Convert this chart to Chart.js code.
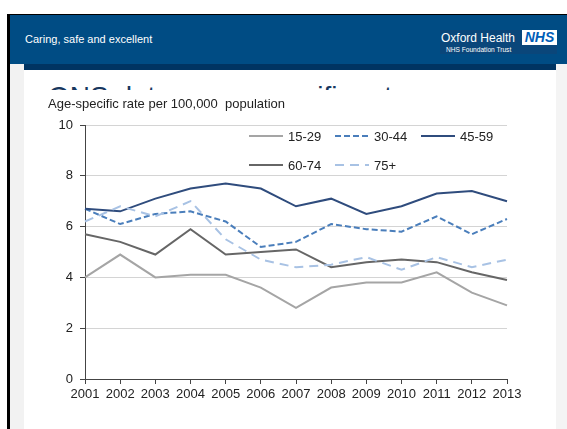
<!DOCTYPE html>
<html>
<head>
<meta charset="utf-8">
<script src="https://cdn.jsdelivr.net/npm/chart.js@4.4.1/dist/chart.umd.min.js"></script>
<style>
  html, body { margin: 0; padding: 0; width: 567px; height: 429px; overflow: hidden; background: #fff; }
  body { position: relative; font-family: 'Liberation Sans', Arial, sans-serif; }
  .abs { position: absolute; }
  #frameTop { left: 7px; top: 14px; width: 560px; height: 1px; background: #000; }
  #frameLeft { left: 7px; top: 14px; width: 3px; height: 415px; background: #000; }
  #header { left: 10px; top: 15px; width: 557px; height: 49px; background: #004c84; }
  #bar { left: 24px; top: 64px; width: 532px; height: 6px; background: #003462; }
  #sideL { left: 10px; top: 64px; width: 14px; height: 365px; background: #f2f2f2; }
  #sideR { left: 556px; top: 64px; width: 11px; height: 365px; background: #f4f4f4; }
  #motto { left: 25px; top: 32px; color: #fff; font-size: 11px; line-height: 14px; white-space: nowrap; }
  #logoBox { left: 440px; top: 30px; width: 117px; height: 24px; background: #0a467a; }
  #orgName { left: 441px; top: 31px; color: #fff; font-size: 12px; line-height: 14px; white-space: nowrap; }
  #nhs { left: 522px; top: 30px; width: 35px; height: 15px; background: #fff; color: #005eb8;
         font-weight: bold; font-style: italic; font-size: 14px; line-height: 15px; text-align: center; }
  #trust { left: 446px; top: 46px; color: #fff; font-size: 6.6px; line-height: 8px; white-space: nowrap; }
  #titleClip { left: 24px; top: 70px; width: 532px; height: 20px; overflow: hidden; }
  #title { left: 24px; top: 13px; color: #17375e; font-size: 28px; line-height: 28px; white-space: nowrap; }
  #chart { left: 24px; top: 90px; }
  #yTitle { left: 48px; top: 96px; color: #222; font-size: 13px; line-height: 16px; white-space: pre; }
</style>
</head>
<body>
<div class="abs" id="header"></div>
<div class="abs" id="frameTop"></div>
<div class="abs" id="frameLeft"></div>
<div class="abs" id="bar"></div>
<div class="abs" id="sideL"></div>
<div class="abs" id="sideR"></div>
<div class="abs" id="motto">Caring, safe and excellent</div>
<div class="abs" id="logoBox"></div>
<div class="abs" id="orgName">Oxford Health</div>
<div class="abs" id="nhs">NHS</div>
<div class="abs" id="trust">NHS Foundation Trust</div>
<div class="abs" id="titleClip"><div class="abs" id="title">ONS data – age-specific rates</div></div>
<canvas class="abs" id="chart" width="532" height="339"></canvas>
<div class="abs" id="yTitle">Age-specific rate per 100,000  population</div>

<script>
const years = ['2001', '2002', '2003', '2004', '2005', '2006', '2007', '2008', '2009', '2010', '2011', '2012', '2013'];
const ageBands = ['15-29', '30-44', '45-59', '60-74', '75+'];

const rate15to29 = [4.0, 4.9, 4.0, 4.1, 4.1, 3.6, 2.8, 3.6, 3.8, 3.8, 4.2, 3.4, 2.9];
const rate30to44 = [6.7, 6.1, 6.5, 6.6, 6.2, 5.2, 5.4, 6.1, 5.9, 5.8, 6.4, 5.7, 6.3];
const rate45to59 = [6.7, 6.6, 7.1, 7.5, 7.7, 7.5, 6.8, 7.1, 6.5, 6.8, 7.3, 7.4, 7.0];
const rate60to74 = [5.7, 5.4, 4.9, 5.9, 4.9, 5.0, 5.1, 4.4, 4.6, 4.7, 4.6, 4.2, 3.9];
const rate75plus = [6.2, 6.8, 6.4, 7.0, 5.5, 4.7, 4.4, 4.5, 4.8, 4.3, 4.8, 4.4, 4.7];

const FONT = "'Liberation Sans', Arial, sans-serif";
const TEXT = '#222';
const AXIS = '#444';

function series(label, data, color, dash, order) {
  return {
    label, data,
    borderColor: color,
    backgroundColor: color,
    borderWidth: 2,
    borderDash: dash,
    pointRadius: 0,
    tension: 0,
    fill: false,
    order
  };
}

// legend sits inside the plot, two rows of three columns (offsets from chart area top-left)
const legendSlots = [[164, 11], [250, 11], [336, 11], [164, 40], [250, 40]];

const slotLegend = {
  id: 'slotLegend',
  afterDraw(chart) {
    const { ctx, chartArea } = chart;
    ctx.save();
    ctx.font = `13px ${FONT}`;
    ctx.textBaseline = 'middle';
    chart.data.datasets.forEach((ds, i) => {
      const [dx, dy] = legendSlots[i];
      const x = chartArea.left + dx;
      const y = chartArea.top + dy;
      ctx.strokeStyle = ds.borderColor;
      ctx.lineWidth = ds.borderWidth;
      ctx.setLineDash(ds.borderDash);
      ctx.beginPath();
      ctx.moveTo(x, y);
      ctx.lineTo(x + 34, y);
      ctx.stroke();
      ctx.setLineDash([]);
      ctx.fillStyle = TEXT;
      ctx.fillText(ds.label, x + 39, y + 1);
    });
    ctx.restore();
  }
};

const chart = new Chart(document.getElementById('chart').getContext('2d'), {
  type: 'line',
  data: {
    labels: years,
    datasets: [
      series(ageBands[0], rate15to29, '#a5a5a5', [], 4),
      series(ageBands[1], rate30to44, '#4a7ebb', [6, 3], 3),
      series(ageBands[2], rate45to59, '#2f4c7d', [], 2),
      series(ageBands[3], rate60to74, '#666666', [], 1),
      series(ageBands[4], rate75plus, '#a8c2e4', [9, 6], 0)
    ]
  },
  options: {
    responsive: false,
    animation: false,
    devicePixelRatio: 1,
    layout: { padding: { top: 35, right: 49, bottom: 0, left: 0 } },
    plugins: {
      legend: { display: false },
      tooltip: { enabled: false },
      title: { display: false }
    },
    scales: {
      x: {
        type: 'category',
        offset: false,
        ticks: { color: TEXT, font: { family: FONT, size: 13 }, padding: 3, maxRotation: 0, autoSkip: false },
        grid: { drawOnChartArea: false, drawTicks: true, tickLength: 5, tickColor: AXIS },
        border: { color: AXIS, width: 1 },
        afterFit: s => { s.height = 50; }
      },
      y: {
        min: 0,
        max: 10,
        ticks: { stepSize: 2, color: TEXT, font: { family: FONT, size: 13 }, padding: 7 },
        grid: {
          color: c => (c.tick && c.tick.value === 0 ? 'rgba(0,0,0,0)' : '#d4d4d4'),
          tickColor: AXIS,
          tickLength: 5,
          lineWidth: 1
        },
        border: { color: AXIS, width: 1 },
        afterFit: s => { s.width = 61; }
      }
    }
  },
  plugins: [slotLegend]
});
</script>
</body>
</html>
